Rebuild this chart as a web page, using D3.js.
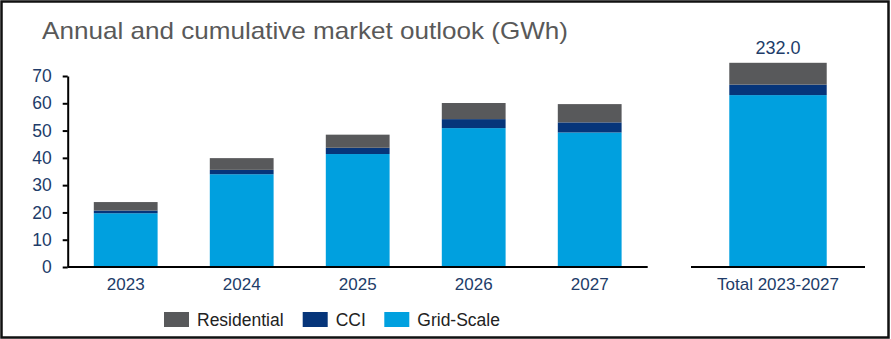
<!DOCTYPE html>
<html>
<head>
<meta charset="utf-8">
<script src="https://cdn.jsdelivr.net/npm/d3@7"></script>
<style>
  html, body { margin: 0; padding: 0; background: #fff; }
  svg { display: block; font-family: "Liberation Sans", Arial, sans-serif; }
</style>
</head>
<body>
<svg id="outlook-chart" width="891" height="339"></svg>
<script>
'use strict';

var years = ['2023', '2024', '2025', '2026', '2027']
var gridScale = [19.7, 34.0, 41.4, 50.9, 49.3]
var cci = [1.0, 1.6, 2.3, 3.3, 3.7]
var residential = [3.1, 4.3, 4.8, 5.9, 6.7]
var yTicks = [0, 10, 20, 30, 40, 50, 60, 70]
var totalLabel = 'Total 2023-2027'

var seriesNames = ['Grid-Scale', 'CCI', 'Residential']
var seriesColors = ['#00a0df', '#06357a', '#58595b']
var legendOrder = ['Residential', 'CCI', 'Grid-Scale']

var textColor = '#213c69'

var svg = d3.select('#outlook-chart')
var width = +svg.attr('width')
var height = +svg.attr('height')

// frame round the whole figure
svg.append('rect')
    .attr('x', 1.5).attr('y', 1.5)
    .attr('width', width - 4).attr('height', height - 3)
    .attr('fill', '#fff')
    .attr('stroke', '#111')
    .attr('stroke-width', 2.5)

svg.append('text')
    .attr('x', 42).attr('y', 38.5)
    .attr('font-size', 24)
    .attr('textLength', 526)
    .attr('lengthAdjust', 'spacingAndGlyphs')
    .attr('fill', '#595959')
    .text('Annual and cumulative market outlook (GWh)')

var rows = years.map(function(y, i) {
    return { label: y, 'Grid-Scale': gridScale[i], 'CCI': cci[i], 'Residential': residential[i] }
})
var totalRow = { label: totalLabel }
seriesNames.forEach(function(k) {
    totalRow[k] = d3.sum(rows, function(r) { return r[k] })
})
var grandTotal = d3.sum(seriesNames, function(k) { return totalRow[k] })

var color = d3.scaleOrdinal().domain(seriesNames).range(seriesColors)
var stack = d3.stack().keys(seriesNames)

var baseY = 267
var topY = 76

var y = d3.scaleLinear().domain([0, 70]).range([baseY, topY])
var yTotal = d3.scaleLinear().domain([0, 217]).range([baseY, topY])

var x = d3.scaleBand().domain(years).range([67.7, 647.7])
    .paddingInner(0.45).paddingOuter(0.225)
var xTotal = d3.scaleBand().domain([totalLabel]).range([691, 865])
    .paddingInner(0.44).paddingOuter(0.22)

function drawBars(data, xs, ys) {
    var g = svg.append('g')
    g.selectAll('g')
        .data(stack(data))
        .enter().append('g')
        .attr('fill', function(d) { return color(d.key) })
        .selectAll('rect')
        .data(function(d) { return d })
        .enter().append('rect')
        .attr('x', function(d) { return xs(d.data.label) })
        .attr('width', xs.bandwidth())
        .attr('y', function(d) { return ys(d[1]) })
        .attr('height', function(d) { return ys(d[0]) - ys(d[1]) })
    return g
}

function drawBaseline(xs) {
    var r = xs.range()
    svg.append('line')
        .attr('x1', r[0]).attr('x2', r[1])
        .attr('y1', baseY).attr('y2', baseY)
        .attr('stroke', '#000')
        .attr('stroke-width', 2)

    svg.append('g').selectAll('text')
        .data(xs.domain())
        .enter().append('text')
        .attr('x', function(d) { return xs(d) + xs.bandwidth() / 2 })
        .attr('y', 290)
        .attr('text-anchor', 'middle')
        .attr('font-size', 17)
        .attr('fill', textColor)
        .text(function(d) { return d })
}

drawBars(rows, x, y)
drawBars([totalRow], xTotal, yTotal)
drawBaseline(x)
drawBaseline(xTotal)

// value label over the cumulative bar
svg.append('text')
    .attr('x', xTotal(totalLabel) + xTotal.bandwidth() / 2)
    .attr('y', yTotal(grandTotal) - 9)
    .attr('text-anchor', 'middle')
    .attr('font-size', 18)
    .attr('fill', textColor)
    .text(grandTotal.toFixed(1))

var yAxis = svg.append('g')
    .attr('transform', 'translate(67.7,0)')
    .call(d3.axisLeft(y).tickValues(yTicks).tickSize(5).tickSizeOuter(0).tickPadding(11))
yAxis.select('.domain').attr('stroke', '#000').attr('stroke-width', 2)
yAxis.selectAll('.tick line').attr('stroke', '#000').attr('stroke-width', 2)
yAxis.selectAll('.tick text')
    .attr('font-size', 17.5)
    .attr('font-family', '"Liberation Sans", Arial, sans-serif')
    .attr('fill', textColor)

// legend along the bottom
var legendX = [164, 302.7, 384.3]
var legend = svg.append('g')
    .selectAll('g')
    .data(legendOrder)
    .enter().append('g')
    .attr('transform', function(d, i) { return 'translate(' + legendX[i] + ',312)' })
legend.append('rect')
    .attr('width', 25).attr('height', 15)
    .attr('fill', function(d) { return color(d) })
legend.append('text')
    .attr('x', 33).attr('y', 14)
    .attr('font-size', 17.5)
    .attr('fill', '#222')
    .text(function(d) { return d })
</script>
</body>
</html>
